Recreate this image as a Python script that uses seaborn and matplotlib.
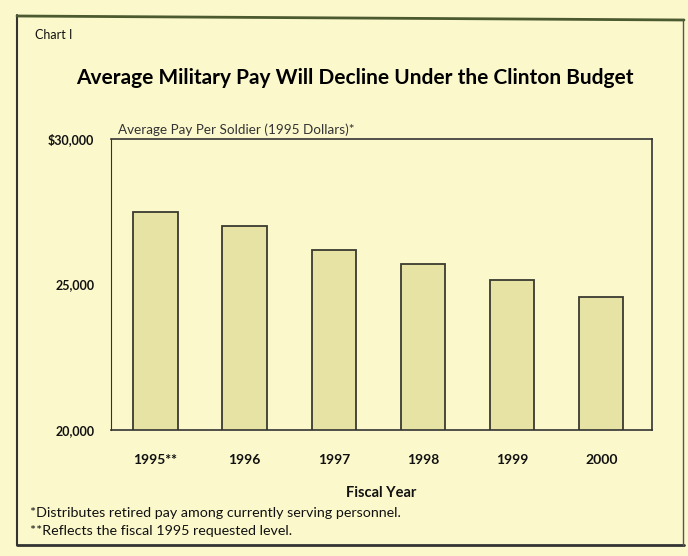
import matplotlib.pyplot as plt
import seaborn as sns
import pandas as pd
from matplotlib.lines import Line2D

# dane
years = ['1995**', '1996', '1997', '1998', '1999', '2000']
avg_pay = [27480, 27020, 26200, 25710, 25160, 24560]
y_ticks = [20000, 25000, 30000]
y_tick_labels = ['20,000', '25,000', '$30,000']

df = pd.DataFrame({'year': years, 'pay': avg_pay})

bg = '#fbf8cc'
sns.set_style('white')
plt.rcParams['font.family'] = ['Lato', 'DejaVu Sans']
plt.rcParams['text.color'] = '#111'
plt.rcParams['xtick.color'] = '#111'
plt.rcParams['ytick.color'] = '#111'
plt.rcParams['axes.labelcolor'] = '#111'

fig = plt.figure(figsize=(6.88, 5.56), dpi=100, facecolor=bg)
ax = fig.add_axes([0.1613, 0.2266, 0.7864, 0.5234])
ax.set_facecolor(bg)

sns.barplot(x='year', y='pay', data=df, ax=ax, color='#e6e3a4', width=0.5,
            edgecolor='#3a3a30', linewidth=1.3, saturation=1)

ax.set_ylim(20000, 30000)
ax.set_xlim(-0.5, 5.57)
ax.set_yticks(y_ticks)
ax.set_yticklabels(y_tick_labels, fontsize=9, weight='bold')
ax.set_xticks(range(len(years)))
ax.set_xticklabels(years, fontsize=10, weight='bold')
ax.tick_params(axis='x', length=0, pad=17)
ax.tick_params(axis='y', direction='in', length=6, width=0.8, color='#555', pad=12)
ax.set_xlabel('Fiscal Year', fontsize=10.5, weight='bold', labelpad=15)
ax.set_ylabel('')
for s in ax.spines.values():
    s.set_color('#333')
    s.set_linewidth(1.2)
ax.spines['left'].set_linewidth(0.8)

# teksty
fig.text(35 / 688, 1 - 35 / 556, 'Chart I', fontsize=9, va='center', ha='left')
fig.text(355 / 688, 1 - 78 / 556, 'Average Military Pay Will Decline Under the Clinton Budget',
         fontsize=15, weight='bold', va='center', ha='center', color='black')
fig.text(118 / 688, 1 - 130 / 556, 'Average Pay Per Soldier (1995 Dollars)*',
         fontsize=9.7, va='center', ha='left', color='#333')
fig.text(30 / 688, 1 - 513 / 556, '*Distributes retired pay among currently serving personnel.',
         fontsize=10.3, va='center', ha='left')
fig.text(30 / 688, 1 - 531 / 556, '**Reflects the fiscal 1995 requested level.',
         fontsize=10.3, va='center', ha='left')

# ramka strony
fig.add_artist(Line2D([17 / 688, 17 / 688], [1 - 15 / 556, 1 - 545 / 556], color='#333', lw=1.5))
fig.add_artist(Line2D([17 / 688, 684 / 688], [1 - 16 / 556, 1 - 20 / 556], color='#4c5a30', lw=2))
fig.add_artist(Line2D([17 / 688, 684 / 688], [1 - 545 / 556, 1 - 545 / 556], color='#333', lw=2))
fig.add_artist(Line2D([683 / 688, 683 / 688], [1 - 20 / 556, 1 - 545 / 556], color='#555', lw=1))

plt.savefig('out.png', dpi=100, facecolor=bg)
